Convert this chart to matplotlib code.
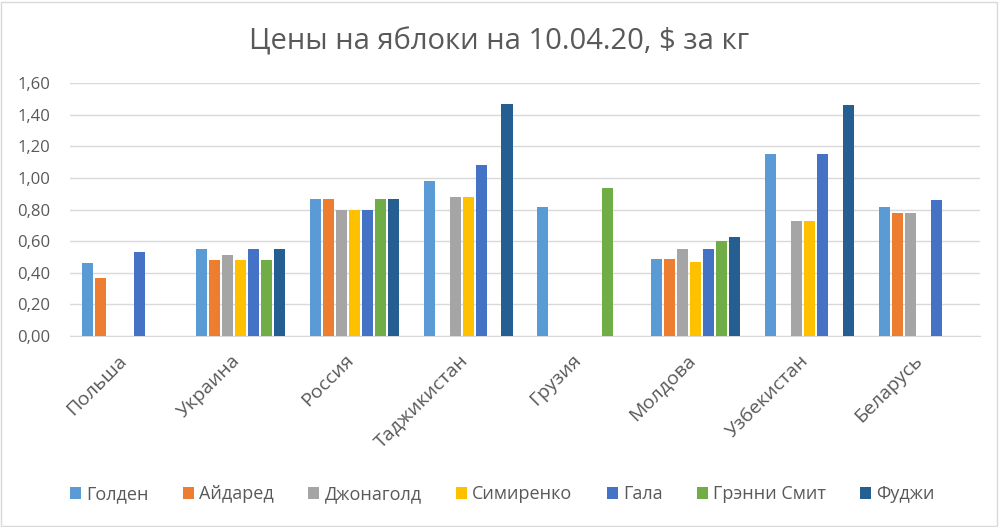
import numpy as np
import matplotlib
matplotlib.use("Agg")
import matplotlib.pyplot as plt
from matplotlib.patches import Rectangle
from matplotlib.transforms import ScaledTranslation

plt.rcParams['font.family'] = ['Open Sans', 'DejaVu Sans']

categories = ["Польша", "Украина", "Россия", "Таджикистан", "Грузия", "Молдова", "Узбекистан", "Беларусь"]
series_names = ["Голден", "Айдаред", "Джонаголд", "Симиренко", "Гала", "Грэнни Смит", "Фуджи"]
nan = np.nan
golden    = [0.46, 0.55, 0.87, 0.98, 0.82, 0.49, 1.15, 0.82]
aidared   = [0.37, 0.48, 0.87, nan,  nan,  0.49, nan,  0.78]
jonagold  = [nan,  0.51, 0.80, 0.88, nan,  0.55, 0.73, 0.78]
simirenko = [nan,  0.48, 0.80, 0.88, nan,  0.47, 0.73, nan]
gala      = [0.53, 0.55, 0.80, 1.08, nan,  0.55, 1.15, 0.86]
granny    = [nan,  0.48, 0.87, nan,  0.94, 0.60, nan,  nan]
fuji      = [nan,  0.55, 0.87, 1.47, nan,  0.63, 1.46, nan]
yticks = [0.0, 0.2, 0.4, 0.6, 0.8, 1.0, 1.2, 1.4, 1.6]
ytick_labels = ["0,00", "0,20", "0,40", "0,60", "0,80", "1,00", "1,20", "1,40", "1,60"]
title = "Цены на яблоки на 10.04.20, $ за кг"

series = [golden, aidared, jonagold, simirenko, gala, granny, fuji]
colors = ["#5B9BD5", "#ED7D31", "#A5A5A5", "#FFC000", "#4472C4", "#70AD47", "#255E91"]

fig = plt.figure(figsize=(9.99, 5.27), dpi=100)
ax = fig.add_axes([0.070, 0.3624, 0.911, 0.4795])

x = np.arange(len(categories))
slot = 0.114
width = 0.097
n = len(series)
for i, (vals, name, c) in enumerate(zip(series, series_names, colors)):
    offs = (i - (n - 1) / 2) * slot
    ax.bar(x + offs, np.array(vals, dtype=float), width=width, color=c, label=name, zorder=3)

ax.set_xlim(-0.5, len(categories) - 0.5)
ax.set_ylim(0, 1.6)
ax.set_yticks(yticks)
ax.set_yticklabels(ytick_labels)
ax.set_xticks(x)
ax.set_xticklabels(categories, rotation=45, ha='right', rotation_mode='anchor')
ax.tick_params(axis='both', length=0, colors='#595959')
ax.tick_params(axis='y', pad=14, labelsize=12)
ax.tick_params(axis='x', pad=8, labelsize=14)
off = ScaledTranslation(-7/72, -3/72, fig.dpi_scale_trans)
for lbl in ax.get_xticklabels():
    lbl.set_transform(lbl.get_transform() + off)
ax.grid(axis='y', color='#D9D9D9', linewidth=1, zorder=0)
for s in ['top', 'right', 'left']:
    ax.spines[s].set_visible(False)
ax.spines['bottom'].set_color('#D9D9D9')

fig.text(0.5, 0.92, title, ha='center', va='center', fontsize=21, color='#595959')

leg = fig.legend(loc='center', bbox_to_anchor=(0.503, 0.062), ncol=7, frameon=False,
                 fontsize=13, handlelength=0.6, handleheight=0.6, handletextpad=0.3,
                 columnspacing=1.9)
for t in leg.get_texts():
    t.set_color('#595959')

fig.patches.append(Rectangle((0.001, 0.001), 0.997, 0.996, transform=fig.transFigure,
                             fill=False, edgecolor='#D9D9D9', linewidth=1))

fig.savefig("out.png", dpi=100)
